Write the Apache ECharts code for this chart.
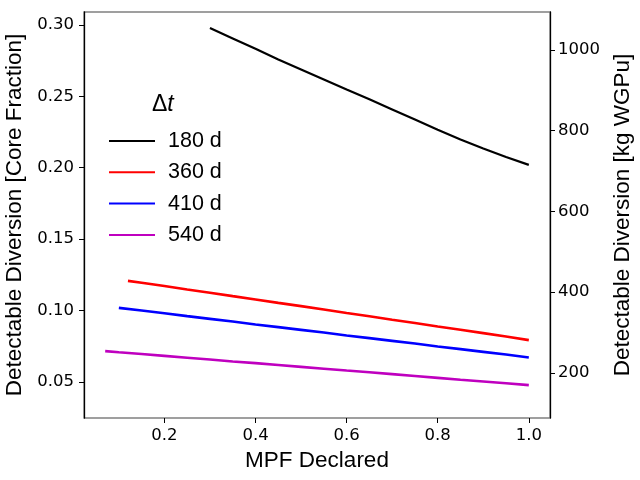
<!DOCTYPE html>
<html>
<head>
<meta charset="utf-8">
<script src="https://cdn.jsdelivr.net/npm/echarts@6/dist/echarts.min.js"></script>
<style>
  html, body { margin: 0; padding: 0; background: #fff; }
  #chart { width: 640px; height: 480px; }
</style>
</head>
<body>
<div id="chart"></div>
<script>
// values
const seriesNames = ['180 d', '360 d', '410 d', '540 d']
const seriesColors = ['#000000', '#ff0000', '#0000ff', '#bf00bf']

const x180 = [0.30, 0.35, 0.40, 0.45, 0.50, 0.55, 0.60, 0.65, 0.70, 0.75, 0.80, 0.85, 0.90, 0.95, 1.00]
const y180 = [0.2978, 0.2905, 0.2832, 0.2758, 0.2688, 0.2618, 0.2548, 0.2479, 0.2408, 0.2337, 0.2266, 0.2198, 0.2135, 0.2075, 0.2020]

const x360 = [0.12, 0.15, 0.20, 0.25, 0.30, 0.35, 0.40, 0.45, 0.50, 0.55, 0.60, 0.65, 0.70, 0.75, 0.80, 0.85, 0.90, 0.95, 1.00]
const y360 = [0.1208, 0.1195, 0.1172, 0.1148, 0.1125, 0.1101, 0.1078, 0.1054, 0.1031, 0.1007, 0.0983, 0.0960, 0.0936, 0.0913, 0.0889, 0.0866, 0.0842, 0.0818, 0.0793]

const x410 = [0.10, 0.15, 0.20, 0.25, 0.30, 0.35, 0.40, 0.45, 0.50, 0.55, 0.60, 0.65, 0.70, 0.75, 0.80, 0.85, 0.90, 0.95, 1.00]
const y410 = [0.1019, 0.1000, 0.0981, 0.0961, 0.0942, 0.0923, 0.0903, 0.0884, 0.0865, 0.0846, 0.0826, 0.0807, 0.0788, 0.0769, 0.0749, 0.0730, 0.0711, 0.0692, 0.0672]

const x540 = [0.07, 0.10, 0.15, 0.20, 0.25, 0.30, 0.35, 0.40, 0.45, 0.50, 0.55, 0.60, 0.65, 0.70, 0.75, 0.80, 0.85, 0.90, 0.95, 1.00]
const y540 = [0.0716, 0.0708, 0.0696, 0.0683, 0.0670, 0.0657, 0.0644, 0.0632, 0.0619, 0.0606, 0.0593, 0.0580, 0.0568, 0.0555, 0.0542, 0.0529, 0.0516, 0.0504, 0.0491, 0.0478]

const xTicks = [0.2, 0.4, 0.6, 0.8, 1.0]
const yLeftTicks = [0.05, 0.10, 0.15, 0.20, 0.25, 0.30]
const yRightTicks = [200, 400, 600, 800, 1000]

const xs = [x180, x360, x410, x540]
const ys = [y180, y360, y410, y540]

const chart = echarts.init(document.getElementById('chart'))

const tickFont = { fontFamily: 'DejaVu Sans', fontSize: 16.5, color: '#000' }
const nameFont = { fontFamily: 'Liberation Sans', fontSize: 22.5, color: '#000' }

const option = {
  animation: false,
  grid: {
    left: 84,
    right: 90,
    top: 12,
    bottom: 62,
    outerBoundsMode: 'none',
    show: true,
    borderColor: '#808080',
    borderWidth: 1.3
  },
  graphic: [
    {
      type: 'text',
      left: 152,
      top: 93,
      style: {
        text: '{a|Δ}{b|t}',
        rich: {
          a: { fontFamily: 'Liberation Sans', fontSize: 23, fill: '#000' },
          b: { fontFamily: 'Liberation Sans', fontSize: 23, fontStyle: 'italic', fill: '#000' }
        }
      }
    }
  ],
  legend: {
    orient: 'vertical',
    left: 104,
    top: 124,
    icon: 'rect',
    itemWidth: 46,
    itemHeight: 2,
    itemGap: 7.3,
    data: seriesNames,
    textStyle: {
      fontFamily: 'Liberation Sans',
      fontSize: 21.5,
      lineHeight: 24,
      color: '#000',
      padding: [0, 0, 0, 8]
    }
  },
  xAxis: {
    type: 'value',
    min: 0.0235,
    max: 1.0465,
    name: 'MPF Declared',
    nameLocation: 'middle',
    nameGap: 31,
    nameTextStyle: nameFont,
    splitLine: { show: false },
    axisLine: { show: false },
    axisTick: {
      show: true,
      length: 5,
      customValues: xTicks,
      lineStyle: { color: '#000' }
    },
    axisLabel: {
      ...tickFont,
      margin: 9,
      customValues: xTicks,
      formatter: v => v.toFixed(1)
    }
  },
  yAxis: [
    {
      type: 'value',
      min: 0.0248,
      max: 0.309,
      name: 'Detectable Diversion [Core Fraction]',
      nameLocation: 'middle',
      nameGap: 55,
      nameRotate: 90,
      nameTextStyle: nameFont,
      splitLine: { show: false },
      axisLine: { show: true, onZero: false, lineStyle: { color: '#000', width: 1.3 } },
      axisTick: {
        show: true,
        length: 5,
        customValues: yLeftTicks,
        lineStyle: { color: '#000' }
      },
      axisLabel: {
        ...tickFont,
        margin: 10,
        customValues: yLeftTicks,
        formatter: v => v.toFixed(2)
      }
    },
    {
      type: 'value',
      position: 'right',
      min: 88,
      max: 1094,
      name: 'Detectable Diversion [kg WGPu]',
      nameLocation: 'middle',
      nameGap: 60,
      nameRotate: 90,
      nameTextStyle: nameFont,
      splitLine: { show: false },
      axisLine: { show: true, onZero: false, lineStyle: { color: '#000', width: 1.3 } },
      axisTick: {
        show: true,
        length: 5,
        customValues: yRightTicks,
        lineStyle: { color: '#000' }
      },
      axisLabel: {
        ...tickFont,
        margin: 8,
        customValues: yRightTicks,
        formatter: v => String(v)
      }
    }
  ],
  series: seriesNames.map((name, i) => ({
    name: name,
    type: 'line',
    yAxisIndex: 0,
    symbol: 'none',
    color: seriesColors[i],
    lineStyle: { color: seriesColors[i], width: i === 0 ? 2.2 : 2.6 },
    data: xs[i].map((x, j) => [x, ys[i][j]])
  }))
}

chart.setOption(option)
</script>
</body>
</html>
